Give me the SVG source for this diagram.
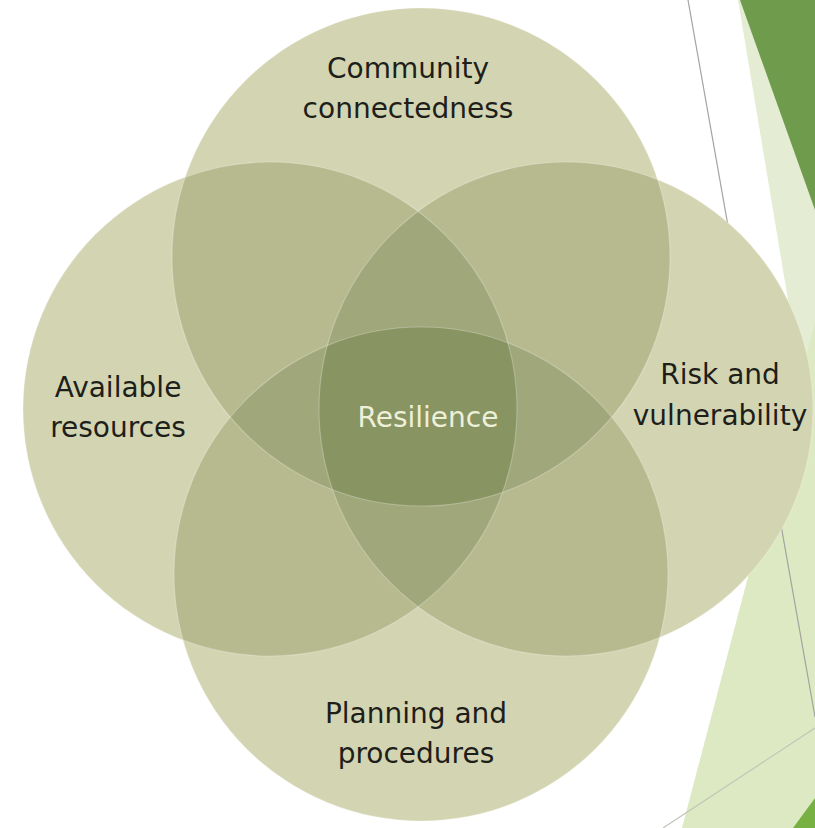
<svg xmlns="http://www.w3.org/2000/svg" width="815" height="828" viewBox="0 0 815 828">
<defs>
<style>
.lbl{font-family:"DejaVu Sans","Liberation Sans",sans-serif;font-size:28px;fill:#1e1e1a;text-anchor:middle}
.ctr{font-family:"DejaVu Sans","Liberation Sans",sans-serif;font-size:28px;fill:#eef0d8;text-anchor:middle}
.c1{fill:#d3d5b2}
.c2{fill:#b7ba8f}
.c3{fill:#a0a87b}
.c4{fill:#889462}
.edge{fill:none;stroke:#ffffff;stroke-opacity:0.25;stroke-width:1.2}
</style>
<clipPath id="cT"><circle cx="421" cy="257" r="249"/></clipPath>
<clipPath id="cL"><circle cx="270" cy="409" r="247"/></clipPath>
<clipPath id="cR"><circle cx="566" cy="409" r="247"/></clipPath>
<clipPath id="cB"><circle cx="421" cy="574" r="247"/></clipPath>
</defs>
<rect width="815" height="828" fill="#ffffff"/>
<g id="background">
<polygon points="738,0 815,0 815,462" fill="#e4edd4"/>
<polygon points="682,828 815,322 815,828" fill="#dde9c3"/>
<polygon points="740,0 815,0 815,210" fill="#6f9b4c"/>
<polygon points="793,828 815,828 815,798" fill="#77b043"/>
<line x1="688" y1="0" x2="815" y2="717" stroke="#a3a3a0" stroke-width="1.2"/>
<line x1="663" y1="828" x2="815" y2="728" stroke="#c2c4b8" stroke-width="1.2"/>
</g>
<g id="circles">
<circle class="c1" cx="421" cy="257" r="249"/>
<circle class="c1" cx="270" cy="409" r="247"/>
<circle class="c1" cx="566" cy="409" r="247"/>
<circle class="c1" cx="421" cy="574" r="247"/>
</g>
<g id="overlaps">
<g clip-path="url(#cT)"><circle class="c2" cx="270" cy="409" r="247"/><circle class="c2" cx="566" cy="409" r="247"/></g>
<g clip-path="url(#cB)"><circle class="c2" cx="270" cy="409" r="247"/><circle class="c2" cx="566" cy="409" r="247"/></g>
<g clip-path="url(#cT)"><g clip-path="url(#cL)"><circle class="c3" cx="566" cy="409" r="247"/><circle class="c3" cx="421" cy="574" r="247"/></g></g>
<g clip-path="url(#cB)"><g clip-path="url(#cR)"><circle class="c3" cx="270" cy="409" r="247"/><circle class="c3" cx="421" cy="257" r="249"/></g></g>
<g clip-path="url(#cT)"><g clip-path="url(#cL)"><g clip-path="url(#cR)"><circle class="c4" cx="421" cy="574" r="247"/></g></g></g>
<circle class="edge" cx="421" cy="257" r="249"/>
<circle class="edge" cx="270" cy="409" r="247"/>
<circle class="edge" cx="566" cy="409" r="247"/>
<circle class="edge" cx="421" cy="574" r="247"/>
</g>
<g id="node-community">
<text class="lbl" x="408" y="78">Community</text>
<text class="lbl" x="408" y="118">connectedness</text>
</g>
<g id="node-resources">
<text class="lbl" x="118" y="397">Available</text>
<text class="lbl" x="118" y="437">resources</text>
</g>
<g id="node-risk">
<text class="lbl" x="720" y="384">Risk and</text>
<text class="lbl" x="720" y="425">vulnerability</text>
</g>
<g id="node-planning">
<text class="lbl" x="416" y="723">Planning and</text>
<text class="lbl" x="416" y="763">procedures</text>
</g>
<g id="node-resilience">
<text class="ctr" x="428" y="427">Resilience</text>
</g>
</svg>
